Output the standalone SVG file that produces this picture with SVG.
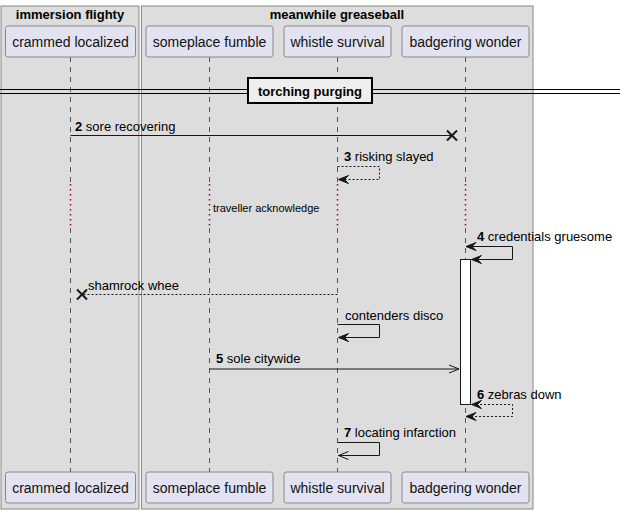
<svg xmlns="http://www.w3.org/2000/svg" width="625" height="513" viewBox="0 0 625 513">
<style>
text{font-family:"Liberation Sans",Arial,sans-serif;fill:#000}
.grp{fill:#DDDDDD;stroke:#888888;stroke-width:1}
.gt{font-size:13px;font-weight:bold;text-anchor:middle}
.pbox{fill:#E2E2F0;stroke:#888888;stroke-width:1}
.pt{font-size:14px;text-anchor:middle;fill:#111}
.life{stroke:#555555;stroke-width:1;stroke-dasharray:5,5;fill:none}
.delay{stroke:#A80036;stroke-width:1.5;stroke-dasharray:1.5,3.5;fill:none}
.msg{stroke:#181818;stroke-width:1;fill:none}
.dash{stroke-dasharray:2,2}
.ml{font-size:13px}
.num{font-weight:bold}
.ah{fill:#181818;stroke:#181818;stroke-width:1}
.x{stroke:#181818;stroke-width:2}
</style>
<g id="group-immersion-flighty">
<rect class="grp" x="1" y="6" width="138" height="503"/>
<text class="gt" x="70" y="19">immersion flighty</text>
</g>
<g id="group-meanwhile-greaseball">
<rect class="grp" x="141.5" y="6" width="391.5" height="503"/>
<text class="gt" x="337" y="19">meanwhile greaseball</text>
</g>
<g id="lifelines">
<path class="life" d="M70.5,57V183M70.5,228V472"/>
<path class="life" d="M209.5,57V183M209.5,228V472"/>
<path class="life" d="M337.5,57V183M337.5,228V472"/>
<path class="life" d="M465.5,57V183M465.5,228V472"/>
<path class="delay" d="M70.5,184V228M209.5,184V228M337.5,184V228M465.5,184V228"/>
</g>
<g id="node-crammed-localized">
<rect class="pbox" x="5.5" y="26" width="130" height="31" rx="2.5"/>
<text class="pt" x="70.5" y="47">crammed localized</text>
<rect class="pbox" x="5.5" y="472" width="130" height="31" rx="2.5"/>
<text class="pt" x="70.5" y="493">crammed localized</text>
</g>
<g id="node-someplace-fumble">
<rect class="pbox" x="146" y="26" width="127" height="31" rx="2.5"/>
<text class="pt" x="209.5" y="47">someplace fumble</text>
<rect class="pbox" x="146" y="472" width="127" height="31" rx="2.5"/>
<text class="pt" x="209.5" y="493">someplace fumble</text>
</g>
<g id="node-whistle-survival">
<rect class="pbox" x="284" y="26" width="107" height="31" rx="2.5"/>
<text class="pt" x="337.5" y="47">whistle survival</text>
<rect class="pbox" x="284" y="472" width="107" height="31" rx="2.5"/>
<text class="pt" x="337.5" y="493">whistle survival</text>
</g>
<g id="node-badgering-wonder">
<rect class="pbox" x="402" y="26" width="127" height="31" rx="2.5"/>
<text class="pt" x="465.5" y="47">badgering wonder</text>
<rect class="pbox" x="402" y="472" width="127" height="31" rx="2.5"/>
<text class="pt" x="465.5" y="493">badgering wonder</text>
</g>
<g id="divider-torching-purging">
<path d="M0,89.5H620M0,93.5H620" stroke="#000" stroke-width="1" fill="none"/>
<rect x="248" y="78" width="124" height="25" fill="#EEEEEE" stroke="#000" stroke-width="2"/>
<text x="310" y="96" font-size="13" font-weight="bold" text-anchor="middle">torching purging</text>
</g>
<g id="activation-badgering">
<rect x="460.5" y="259.5" width="10" height="145" fill="#FFFFFF" stroke="#181818" stroke-width="1"/>
</g>
<g id="connectors">
<path class="msg" d="M70.5,135.5H452"/>
<path class="x" d="M447,130.5L457,140.5M447,140.5L457,130.5"/>
<text class="ml" x="75" y="131"><tspan class="num">2</tspan> sore recovering</text>

<path class="msg dash" d="M337.5,166.5H379.5V179.5H339"/>
<polygon class="ah" points="338.5,179.5 348.5,175.5 344.5,179.5 348.5,183.5"/>
<text class="ml" x="344" y="161"><tspan class="num">3</tspan> risking slayed</text>

<text x="213" y="212" font-size="11">traveller acknowledge</text>

<path class="msg" d="M466,246.5H512.5V259.5H472"/>
<polygon class="ah" points="466,246.5 476,242.5 472,246.5 476,250.5"/>
<polygon class="ah" points="471.5,259.5 481.5,255.5 477.5,259.5 481.5,263.5"/>
<text class="ml" x="477" y="241"><tspan class="num">4</tspan> credentials gruesome</text>

<path class="msg dash" d="M337.5,294.5H82"/>
<path class="x" d="M77,289.5L87,299.5M77,299.5L87,289.5"/>
<text class="ml" x="88" y="290">shamrock whee</text>

<path class="msg" d="M337.5,324.5H379.5V337.5H339"/>
<polygon class="ah" points="338.5,337.5 348.5,333.5 344.5,337.5 348.5,341.5"/>
<text class="ml" x="345" y="320">contenders disco</text>

<path class="msg" d="M209.5,369H459M459,369L449,365M459,369L449,373"/>
<text class="ml" x="216" y="363"><tspan class="num">5</tspan> sole citywide</text>

<path class="msg dash" d="M472,404.5H512.5V416.5H467"/>
<polygon class="ah" points="471.5,404.5 481.5,400.5 477.5,404.5 481.5,408.5"/>
<polygon class="ah" points="466,416.5 476,412.5 472,416.5 476,420.5"/>
<text class="ml" x="477" y="399"><tspan class="num">6</tspan> zebras down</text>

<path class="msg" d="M337.5,442.5H379.5V455.5H338.5M338.5,455.5L348.5,451.5M338.5,455.5L348.5,459.5"/>
<text class="ml" x="344" y="437"><tspan class="num">7</tspan> locating infarction</text>
</g>
</svg>
